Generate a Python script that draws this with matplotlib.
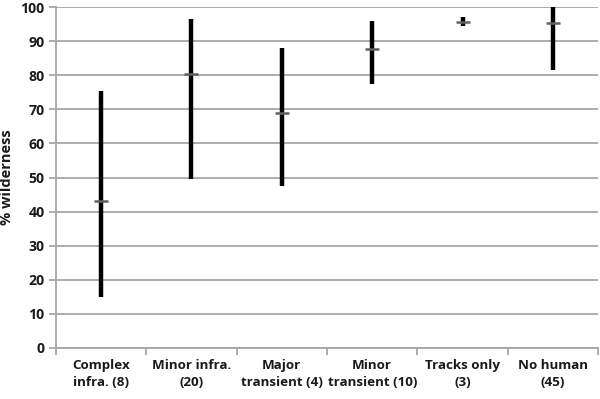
"""High-low-mean chart of wilderness percentage by disturbance class."""
import matplotlib
matplotlib.use('Agg')
import matplotlib.pyplot as plt
import numpy as np

categories = ["Complex\ninfra. (8)", "Minor infra.\n(20)", "Major\ntransient (4)",
              "Minor\ntransient (10)", "Tracks only\n(3)", "No human\n(45)"]
highs = [75.5, 96.5, 88, 96, 97.2, 100]
lows = [15, 49.5, 47.5, 77.6, 94.4, 81.5]
means = [43, 80.5, 68.8, 87.7, 95.7, 95.3]

GRID = '#a6a6a6'
TXT = '#1a1a1a'
plt.rcParams['font.family'] = ['Open Sans', 'DejaVu Sans']

fig = plt.figure(figsize=(6, 3.99), dpi=100)
ax = fig.add_axes([0.093, 0.128, 0.904, 0.854])

x = np.arange(len(categories))
ax.vlines(x, lows, highs, color='black', linewidth=3.2, zorder=3)
ax.scatter(x, means, marker='_', s=90, color='#606060', linewidths=1.8, zorder=4)

ax.set_xlim(-0.5, len(categories) - 0.5)
ax.set_ylim(0, 100)
ax.set_yticks(np.arange(0, 101, 10))
ax.yaxis.grid(True, color=GRID, linewidth=1.3)
ax.set_axisbelow(True)

ax.set_xticks(x)
ax.set_xticklabels(categories, fontsize=9.6, fontweight='bold', color=TXT, linespacing=1.35)
ax.set_xticks(np.arange(-0.5, len(categories)), minor=True)
ax.tick_params(axis='x', which='major', length=0, pad=8)
ax.tick_params(axis='x', which='minor', length=5, color=GRID, width=1.3)
ax.tick_params(axis='y', length=5, color=GRID, width=1.3, labelsize=10.2, labelcolor=TXT, pad=3)
for lbl in ax.get_yticklabels():
    lbl.set_fontweight('bold')

for s in ['top', 'right']:
    ax.spines[s].set_visible(False)
for s in ['left', 'bottom']:
    ax.spines[s].set_color(GRID)
    ax.spines[s].set_linewidth(1.3)

ax.set_ylabel("% wilderness", fontsize=10.5, fontweight='bold', color=TXT)
ax.yaxis.set_label_coords(-0.077, 0.5)

fig.savefig('out.png', dpi=100, facecolor='white')
